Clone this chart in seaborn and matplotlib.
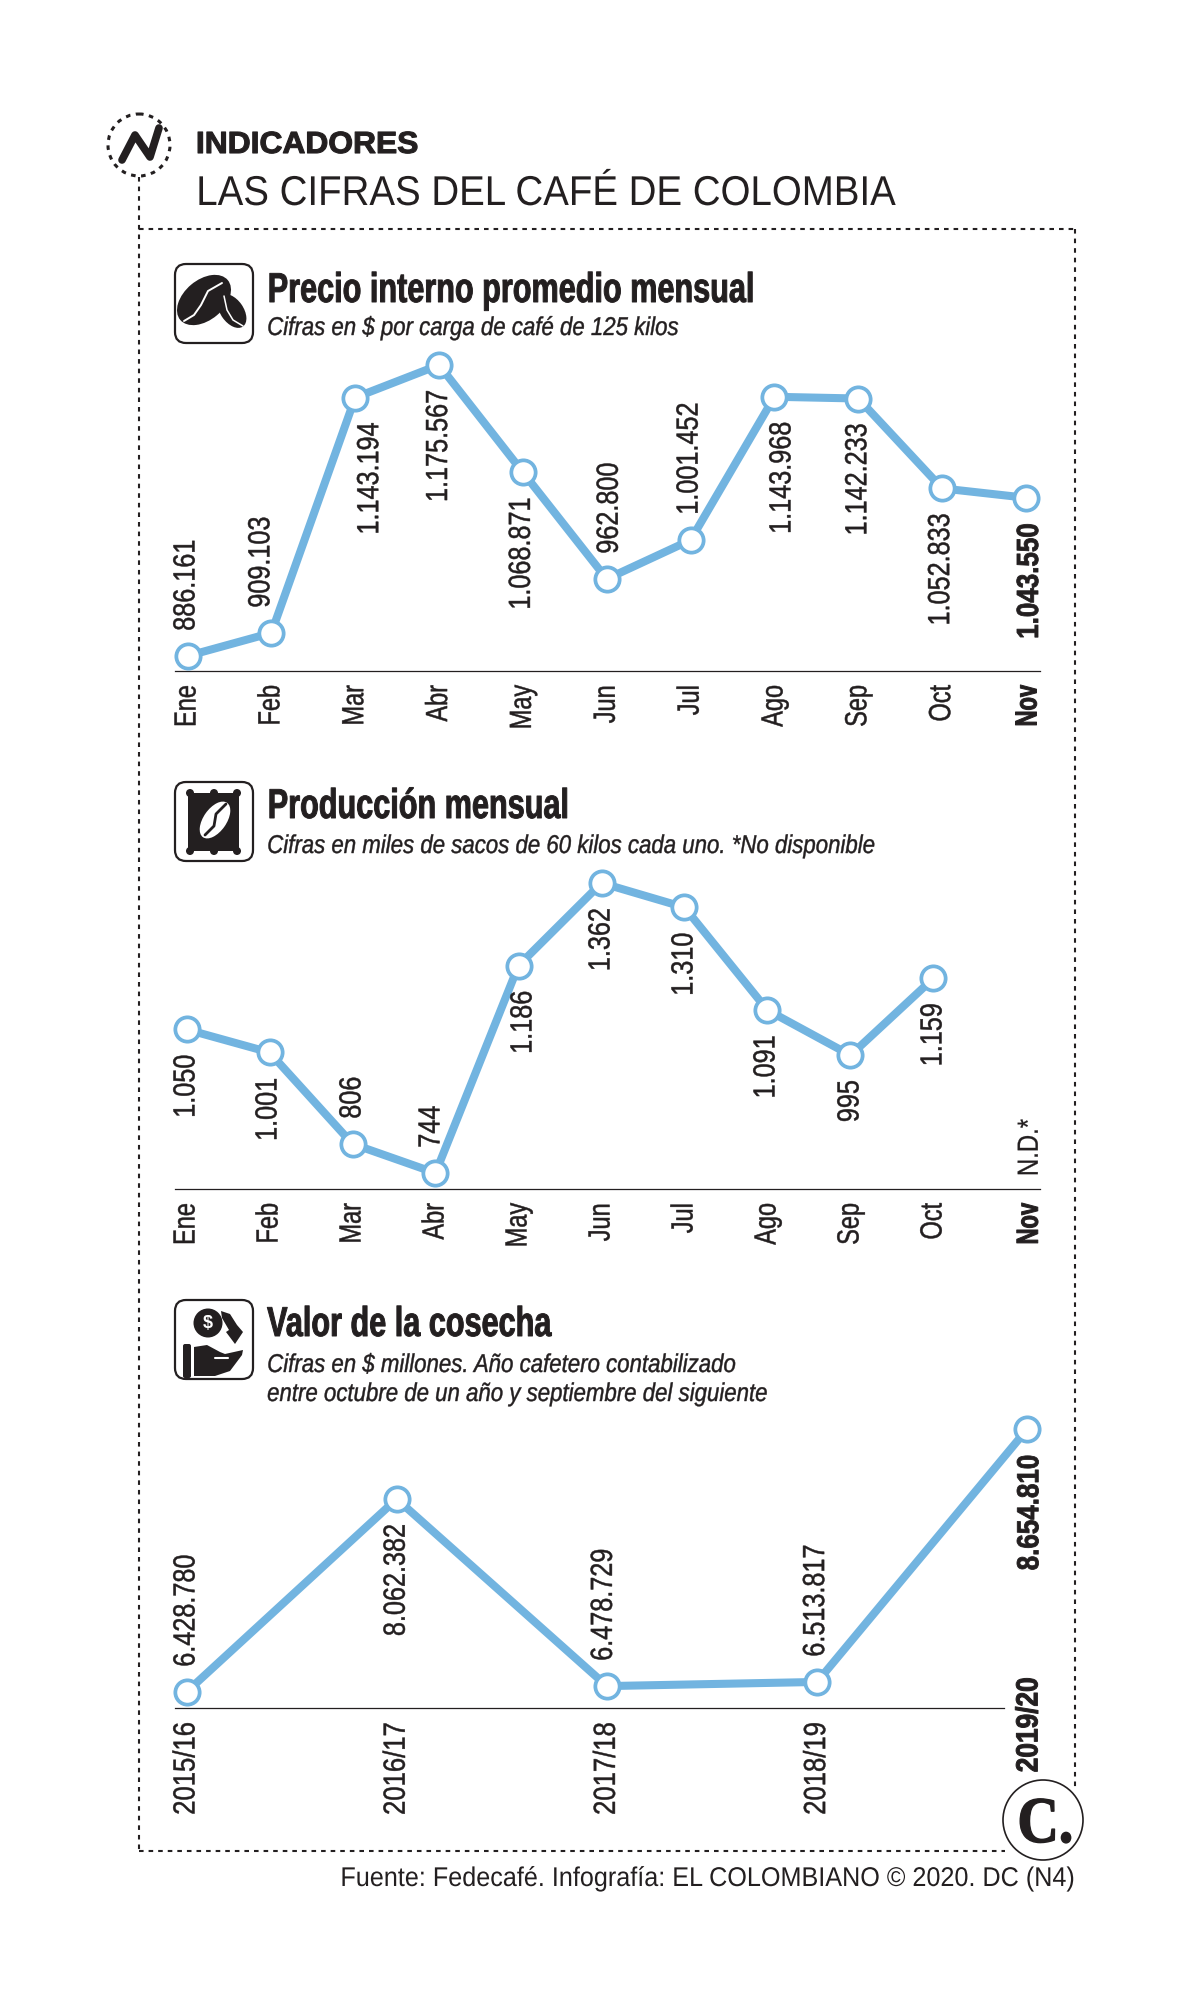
import numpy as np
import matplotlib
matplotlib.use("Agg")
import matplotlib.pyplot as plt
import seaborn as sns
from matplotlib.patches import Circle, Ellipse, FancyBboxPatch, Polygon
from matplotlib.patheffects import AbstractPathEffect
from matplotlib.transforms import Affine2D

# ---------- data ----------
months = ["Ene", "Feb", "Mar", "Abr", "May", "Jun", "Jul", "Ago", "Sep", "Oct", "Nov"]
price_values = [886161, 909103, 1143194, 1175567, 1068871, 962800, 1001452, 1143968, 1142233, 1052833, 1043550]
price_labels = ["886.161", "909.103", "1.143.194", "1.175.567", "1.068.871", "962.800", "1.001.452", "1.143.968", "1.142.233", "1.052.833", "1.043.550"]
price_above = [True, True, False, False, False, True, True, False, False, False, False]

prod_values = [1050, 1001, 806, 744, 1186, 1362, 1310, 1091, 995, 1159, np.nan]
prod_labels = ["1.050", "1.001", "806", "744", "1.186", "1.362", "1.310", "1.091", "995", "1.159", "N.D.*"]
prod_above = [False, False, True, True, False, False, False, False, False, False, True]

years = ["2015/16", "2016/17", "2017/18", "2018/19", "2019/20"]
harvest_values = [6428780, 8062382, 6478729, 6513817, 8654810]
harvest_labels = ["6.428.780", "8.062.382", "6.478.729", "6.513.817", "8.654.810"]
harvest_above = [True, False, True, True, False]

BLUE = "#72b4e0"
INK = "#231f20"
W, H = 1188, 2000


class Squeeze(AbstractPathEffect):
    """Condense a text along its own direction, keeping one end fixed; optional heavier stroke."""
    def __init__(self, sx, anchor="min", stroke=0.0):
        super().__init__()
        self.sx, self.anchor, self.stroke = sx, anchor, stroke

    def draw_path(self, renderer, gc, tpath, affine, rgbFace=None):
        ext = tpath.get_extents()
        x = {"min": ext.x0, "max": ext.x1, "mid": (ext.x0 + ext.x1) / 2}[self.anchor]
        t = Affine2D().translate(-x, 0).scale(self.sx, 1).translate(x, 0)
        g = renderer.new_gc()
        g.copy_properties(gc)
        if self.stroke > 0:
            g.set_linewidth(self.stroke)
            g.set_foreground(rgbFace)
        renderer.draw_path(g, tpath, t + affine, rgbFace)
        g.restore()


sns.set_theme(style="white")
plt.rcParams["font.family"] = ["Liberation Sans", "DejaVu Sans"]
fig = plt.figure(figsize=(W / 100, H / 100), dpi=100, facecolor="white")


def panel(x, values, labels, above, ticks, ticklabels, left, right, top, base,
          x_px0, x_px_step, ya, yb, label_dx, tick_sx=0.77, last_sx=0.72,
          last_pad=None, rule_end=None):
    """ya, yb: (value, pixel row) pairs calibrating the y scale."""
    ax = fig.add_axes([left / W, 1 - base / H, (right - left) / W, (base - top) / H])
    ax.patch.set_alpha(0)
    sns.lineplot(x=x, y=values, ax=ax, color=BLUE, linewidth=5.8, marker="o",
                 markersize=17.5, markerfacecolor="white", markeredgecolor=BLUE,
                 markeredgewidth=2.7, clip_on=False, errorbar=None, zorder=3)
    for s in ("top", "left", "right"):
        ax.spines[s].set_visible(False)
    ax.spines["bottom"].set_linewidth(0.9)
    ax.spines["bottom"].set_color(INK)
    ax.set_yticks([])
    ax.set_xticks(ticks)
    ax.set_xticklabels(ticklabels, rotation=90, fontsize=22, color=INK)
    ax.tick_params(axis="x", length=0, pad=10)
    slope = (yb[0] - ya[0]) / (ya[1] - yb[1])
    ax.set_ylim(ya[0] - (base - ya[1]) * slope, ya[0] + (ya[1] - top) * slope)
    ax.set_xlim((left - x_px0) / x_px_step, (right - x_px0) / x_px_step)
    if rule_end is not None:
        ax.spines["bottom"].set_bounds((left - x_px0) / x_px_step, (rule_end - x_px0) / x_px_step)
    last = len(ticklabels) - 1
    if last_pad is not None:
        ax.xaxis.get_major_ticks()[-1].set_pad(last_pad)
    for i, t in enumerate(ax.get_xticklabels()):
        t.set_va("top")
        t.set_ha("center")
        if i == last:
            t.set_fontweight("bold")
            t.set_path_effects([Squeeze(last_sx, "max", 0.7)])
        else:
            t.set_path_effects([Squeeze(tick_sx, "max", 0.35)])
    ax.set_xlabel("")
    ax.set_ylabel("")
    for i, (lab, up) in enumerate(zip(labels, above)):
        v = values[i]
        bold = i == last
        if np.isnan(v):
            ax.annotate(lab, (ticks[i], 0), xycoords=("data", "axes fraction"),
                        xytext=(0, 9), textcoords="offset points", rotation=90,
                        ha="center", va="bottom", fontsize=21, color=INK,
                        path_effects=[Squeeze(0.82, "min", 0.2)])
            continue
        ax.annotate(lab, (x[i], v), xytext=(label_dx[i] * 0.72, 18 if up else -18),
                    textcoords="offset points", rotation=90, ha="center",
                    va="bottom" if up else "top", fontsize=22, color=INK,
                    fontweight="bold" if bold else "normal",
                    path_effects=[Squeeze(0.85 if bold else 0.825, "min" if up else "max",
                                          0.6 if bold else 0.35)],
                    zorder=4)
    return ax


xm = list(range(11))
panel(xm, price_values, price_labels, price_above, [0, 1, 2, 3, 4, 5, 6, 7, 8, 9, 10.03], months,
      175, 1040, 340, 671, 187.5, 83.85, (886161, 656), (1175567, 365),
      [-1, -10, 15, 0, -1, 3, -1, 8, 0, -1, 4])
panel(xm, prod_values, prod_labels, prod_above, [0, 1, 2, 3, 4, 5, 6, 7, 8, 9, 10.16], months,
      175, 1040, 860, 1189, 186.5, 83.0, (744, 1173), (1362, 883),
      [0, -1, 0, -4, 5, 0, 0, -1, 0, 0, 0])
panel(list(range(5)), harvest_values, harvest_labels, harvest_above, [0, 1, 2, 3, 4.01], years,
      175, 1040, 1400, 1708, 186.5, 210.2, (6428780, 1692), (8654810, 1429),
      [0, 0, -3, -1, 3], tick_sx=0.84, last_sx=0.86, last_pad=-22, rule_end=1004)

# ---------- overlay: headings, frame, icons ----------
ov = fig.add_axes([0, 0, 1, 1], zorder=10)
ov.set_xlim(0, W)
ov.set_ylim(H, 0)
ov.axis("off")
ov.patch.set_alpha(0)

dash = dict(color=INK, lw=1.5, linestyle=(0, (2.2, 2.4)))
L, T, R, B = 139, 229, 1075, 1851
ov.plot([L, L], [177, B], **dash)
ov.plot([L, R], [T, T], **dash)
ov.plot([R, R], [T, 1790], **dash)
ov.plot([L, 1005], [B, B], **dash)

ov.add_patch(Circle((139, 145), 31, fc="white", ec=INK, lw=2.2, ls=(0, (1.5, 1.8))))
ov.plot([122, 135, 150, 159], [160, 135, 157, 128], color=INK, lw=5.5,
        solid_capstyle="round", solid_joinstyle="round")

ov.text(196, 153, "INDICADORES", fontsize=22, fontweight="bold", color=INK, va="baseline",
        path_effects=[Squeeze(1.04, "min", 0.8)])
ov.text(196, 205, "LAS CIFRAS DEL CAFÉ DE COLOMBIA", fontsize=30, color=INK, va="baseline",
        path_effects=[Squeeze(0.923)])

heads = [("Precio interno promedio mensual", 302, ["Cifras en $ por carga de café de 125 kilos"], [335]),
         ("Producción mensual", 818, ["Cifras en miles de sacos de 60 kilos cada uno. *No disponible"], [853]),
         ("Valor de la cosecha", 1336, ["Cifras en $ millones. Año cafetero contabilizado",
                                        "entre octubre de un año y septiembre del siguiente"], [1372, 1401])]
for title, y, subs, ys in heads:
    ov.text(267, y, title, fontsize=30, fontweight="bold", color=INK, va="baseline",
            path_effects=[Squeeze(0.735, "min", 0.7)])
    for s, yy in zip(subs, ys):
        ov.text(267, yy, s, fontsize=18.5, style="italic", color=INK, va="baseline",
                path_effects=[Squeeze(0.865, "min", 0.3)])

ov.text(1076, 1886, "Fuente: Fedecafé. Infografía: EL COLOMBIANO © 2020. DC (N4)", fontsize=19.5,
        color=INK, ha="right", va="baseline", path_effects=[Squeeze(0.93, "max")])

# icon boxes
for y0 in (264, 782, 1300):
    ov.add_patch(FancyBboxPatch((175, y0), 78, 79, boxstyle="round,pad=0,rounding_size=11",
                                fc="white", ec=INK, lw=1.6))
# beans
ov.add_patch(Ellipse((204, 300), 62, 40, angle=-40, fc=INK, ec="none"))
ov.add_patch(Ellipse((232, 311), 38, 23, angle=55, fc=INK, ec="none"))
ov.plot([222, 208, 201, 194, 184], [283, 291, 305, 315, 321], color="white", lw=1.4)
ov.plot([224, 227, 233, 243], [296, 310, 320, 326], color="white", lw=1.1)
# sack
ov.add_patch(Polygon([(188, 793), (239, 793), (239, 851), (188, 851)], fc=INK, ec="none"))
for cx in (190, 214, 237):
    for cy in (793, 851):
        ov.add_patch(Circle((cx, cy), 4, fc=INK, ec="none"))
ov.add_patch(Ellipse((215, 820), 42, 23, angle=-55, fc="white", ec="none"))
ov.plot([205, 214, 216, 226], [835, 826, 814, 804], color=INK, lw=2)
# coin, arrow and hand
ov.add_patch(Circle((208, 1323), 14.5, fc=INK, ec="none"))
ov.text(208, 1323, "$", fontsize=13, fontweight="bold", color="white", ha="center", va="center")
ov.add_patch(Polygon([(221, 1311), (230, 1314), (237, 1325), (243, 1332), (235, 1344),
                      (226, 1332), (229, 1330), (222, 1318)], fc=INK, ec="none"))
ov.add_patch(FancyBboxPatch((183, 1344), 8, 34, boxstyle="round,pad=0,rounding_size=2", fc=INK, ec="none"))
ov.add_patch(Polygon([(194, 1347), (207, 1345), (220, 1352), (225, 1354), (243, 1350), (242, 1355),
                      (230, 1371), (215, 1376), (194, 1376)], fc=INK, ec="none"))
ov.plot([215, 228], [1358, 1358], color="white", lw=1.5)

# brand seal
ov.add_patch(Circle((1043, 1820), 40, fc="white", ec=INK, lw=1.2))
ov.text(1017, 1842, "C.", fontsize=47, fontweight="bold", color=INK, ha="left", va="baseline",
        family="Liberation Serif", path_effects=[Squeeze(0.88, "min", 1.0)])

fig.savefig("out.png", dpi=100, facecolor="white")
